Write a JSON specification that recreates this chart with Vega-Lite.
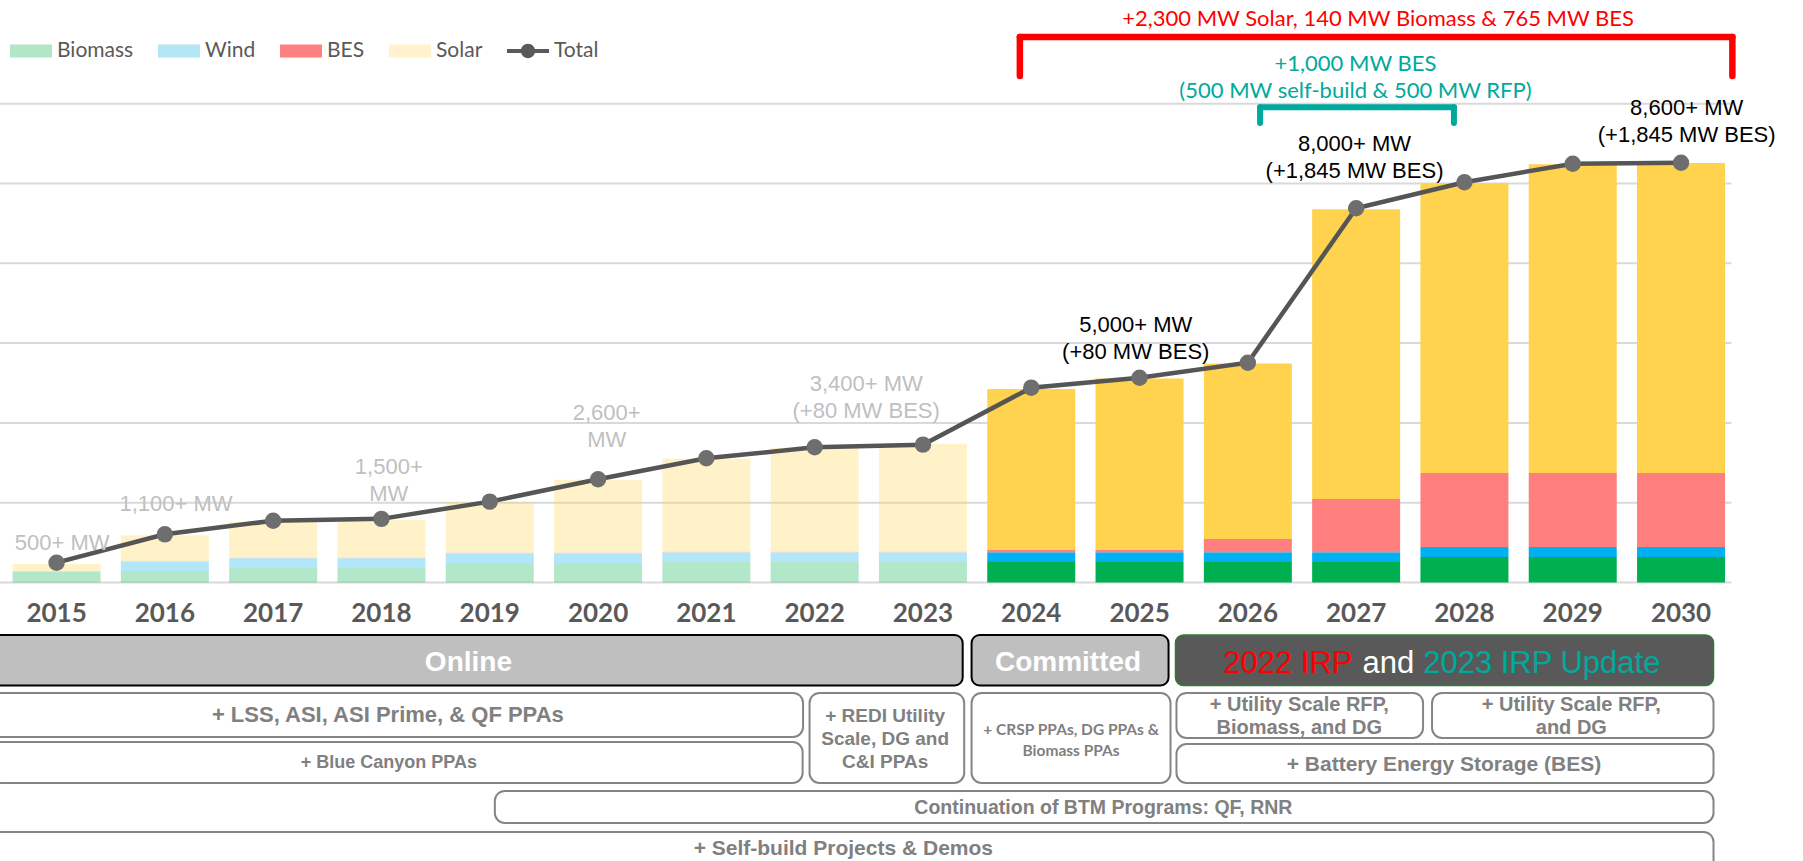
{
  "$schema": "https://vega.github.io/schema/vega-lite/v6.json",
  "width": 1803,
  "height": 861,
  "autosize": "none",
  "padding": 0,
  "background": "white",
  "config": {"view": {"stroke": null}, "axis": {"disable": true}},
  "datasets": {
    "bars": [
      {"year": 2015, "source": "Biomass", "phase": "past", "mw": 215},
      {"year": 2015, "source": "Wind", "phase": "past", "mw": 8},
      {"year": 2015, "source": "BES", "phase": "past", "mw": 0},
      {"year": 2015, "source": "Solar", "phase": "past", "mw": 150},
      {"year": 2016, "source": "Biomass", "phase": "past", "mw": 230},
      {"year": 2016, "source": "Wind", "phase": "past", "mw": 190},
      {"year": 2016, "source": "BES", "phase": "past", "mw": 15},
      {"year": 2016, "source": "Solar", "phase": "past", "mw": 510},
      {"year": 2017, "source": "Biomass", "phase": "past", "mw": 290},
      {"year": 2017, "source": "Wind", "phase": "past", "mw": 195},
      {"year": 2017, "source": "BES", "phase": "past", "mw": 15},
      {"year": 2017, "source": "Solar", "phase": "past", "mw": 720},
      {"year": 2018, "source": "Biomass", "phase": "past", "mw": 290},
      {"year": 2018, "source": "Wind", "phase": "past", "mw": 195},
      {"year": 2018, "source": "BES", "phase": "past", "mw": 15},
      {"year": 2018, "source": "Solar", "phase": "past", "mw": 760},
      {"year": 2019, "source": "Biomass", "phase": "past", "mw": 390},
      {"year": 2019, "source": "Wind", "phase": "past", "mw": 195},
      {"year": 2019, "source": "BES", "phase": "past", "mw": 15},
      {"year": 2019, "source": "Solar", "phase": "past", "mw": 1010},
      {"year": 2020, "source": "Biomass", "phase": "past", "mw": 390},
      {"year": 2020, "source": "Wind", "phase": "past", "mw": 195},
      {"year": 2020, "source": "BES", "phase": "past", "mw": 15},
      {"year": 2020, "source": "Solar", "phase": "past", "mw": 1460},
      {"year": 2021, "source": "Biomass", "phase": "past", "mw": 410},
      {"year": 2021, "source": "Wind", "phase": "past", "mw": 190},
      {"year": 2021, "source": "BES", "phase": "past", "mw": 20},
      {"year": 2021, "source": "Solar", "phase": "past", "mw": 1860},
      {"year": 2022, "source": "Biomass", "phase": "past", "mw": 410},
      {"year": 2022, "source": "Wind", "phase": "past", "mw": 190},
      {"year": 2022, "source": "BES", "phase": "past", "mw": 20},
      {"year": 2022, "source": "Solar", "phase": "past", "mw": 2080},
      {"year": 2023, "source": "Biomass", "phase": "past", "mw": 410},
      {"year": 2023, "source": "Wind", "phase": "past", "mw": 190},
      {"year": 2023, "source": "BES", "phase": "past", "mw": 20},
      {"year": 2023, "source": "Solar", "phase": "past", "mw": 2160},
      {"year": 2024, "source": "Biomass", "phase": "future", "mw": 410},
      {"year": 2024, "source": "Wind", "phase": "future", "mw": 195},
      {"year": 2024, "source": "BES", "phase": "future", "mw": 45},
      {"year": 2024, "source": "Solar", "phase": "future", "mw": 3230},
      {"year": 2025, "source": "Biomass", "phase": "future", "mw": 410},
      {"year": 2025, "source": "Wind", "phase": "future", "mw": 195},
      {"year": 2025, "source": "BES", "phase": "future", "mw": 45},
      {"year": 2025, "source": "Solar", "phase": "future", "mw": 3440},
      {"year": 2026, "source": "Biomass", "phase": "future", "mw": 410},
      {"year": 2026, "source": "Wind", "phase": "future", "mw": 195},
      {"year": 2026, "source": "BES", "phase": "future", "mw": 265},
      {"year": 2026, "source": "Solar", "phase": "future", "mw": 3520},
      {"year": 2027, "source": "Biomass", "phase": "future", "mw": 410},
      {"year": 2027, "source": "Wind", "phase": "future", "mw": 195},
      {"year": 2027, "source": "BES", "phase": "future", "mw": 1070},
      {"year": 2027, "source": "Solar", "phase": "future", "mw": 5810},
      {"year": 2028, "source": "Biomass", "phase": "future", "mw": 510},
      {"year": 2028, "source": "Wind", "phase": "future", "mw": 200},
      {"year": 2028, "source": "BES", "phase": "future", "mw": 1485},
      {"year": 2028, "source": "Solar", "phase": "future", "mw": 5810},
      {"year": 2029, "source": "Biomass", "phase": "future", "mw": 510},
      {"year": 2029, "source": "Wind", "phase": "future", "mw": 200},
      {"year": 2029, "source": "BES", "phase": "future", "mw": 1485},
      {"year": 2029, "source": "Solar", "phase": "future", "mw": 6190},
      {"year": 2030, "source": "Biomass", "phase": "future", "mw": 510},
      {"year": 2030, "source": "Wind", "phase": "future", "mw": 200},
      {"year": 2030, "source": "BES", "phase": "future", "mw": 1485},
      {"year": 2030, "source": "Solar", "phase": "future", "mw": 6215}
    ],
    "totals": [
      {"year": 2015, "mw": 397}, {"year": 2016, "mw": 966}, {"year": 2017, "mw": 1239},
      {"year": 2018, "mw": 1276}, {"year": 2019, "mw": 1621}, {"year": 2020, "mw": 2069},
      {"year": 2021, "mw": 2490}, {"year": 2022, "mw": 2711}, {"year": 2023, "mw": 2764},
      {"year": 2024, "mw": 3906}, {"year": 2025, "mw": 4106}, {"year": 2026, "mw": 4406},
      {"year": 2027, "mw": 7503}, {"year": 2028, "mw": 8024}, {"year": 2029, "mw": 8397},
      {"year": 2030, "mw": 8417}
    ],
    "grid": [{"mw": 0}, {"mw": 1600}, {"mw": 3200}, {"mw": 4800}, {"mw": 6400}, {"mw": 8000}, {"mw": 9600}],
    "labels": [
      {"x": 2015.052, "y": 792, "text": "500+ MW", "tone": "past"},
      {"x": 2016.103, "y": 1574, "text": "1,100+ MW", "tone": "past"},
      {"x": 2018.068, "y": 2306, "text": "1,500+\nMW", "tone": "past"},
      {"x": 2020.080, "y": 3399, "text": "2,600+\nMW", "tone": "past"},
      {"x": 2022.476, "y": 3970, "text": "3,400+ MW\n(+80 MW BES)", "tone": "past"},
      {"x": 2024.965, "y": 5153, "text": "5,000+ MW\n(+80 MW BES)", "tone": "future"},
      {"x": 2026.985, "y": 8782, "text": "8,000+ MW\n(+1,845 MW BES)", "tone": "future"},
      {"x": 2030.052, "y": 9514, "text": "8,600+ MW\n(+1,845 MW BES)", "tone": "future"}
    ],
    "brackets": [
      {"bracket": "red", "x1": 2023.895, "x2": 2023.895, "y1": 10155, "y2": 10937},
      {"bracket": "red", "x1": 2023.895, "x2": 2030.474, "y1": 10937, "y2": 10937},
      {"bracket": "red", "x1": 2030.474, "x2": 2030.474, "y1": 10937, "y2": 10155},
      {"bracket": "teal", "x1": 2026.113, "x2": 2026.113, "y1": 9213, "y2": 9527},
      {"bracket": "teal", "x1": 2026.113, "x2": 2027.903, "y1": 9527, "y2": 9527},
      {"bracket": "teal", "x1": 2027.903, "x2": 2027.903, "y1": 9527, "y2": 9213}
    ],
    "notes": [
      {"note": "red", "x": 2027.203, "y": 11308, "text": "+2,300 MW Solar, 140 MW Biomass & 765 MW BES"},
      {"note": "teal", "x": 2026.994, "y": 10386, "text": "+1,000 MW BES\n(500 MW self-build & 500 MW RFP)"}
    ],
    "boxes": [
      {"box": "Online", "x1": 2014.40, "x2": 2023.367, "y1": -1053, "y2": -2065},
      {"box": "Committed", "x1": 2023.449, "x2": 2025.268, "y1": -1053, "y2": -2065},
      {"box": "IRP", "x1": 2025.332, "x2": 2030.300, "y1": -1053, "y2": -2065},
      {"box": "LSS", "x1": 2014.40, "x2": 2021.893, "y1": -2215, "y2": -3098},
      {"box": "BlueCanyon", "x1": 2014.40, "x2": 2021.889, "y1": -3198, "y2": -4020},
      {"box": "REDI", "x1": 2021.953, "x2": 2023.381, "y1": -2215, "y2": -4020},
      {"box": "CRSP", "x1": 2023.449, "x2": 2025.286, "y1": -2215, "y2": -4020},
      {"box": "USRFP1", "x1": 2025.341, "x2": 2027.618, "y1": -2215, "y2": -3118},
      {"box": "USRFP2", "x1": 2027.701, "x2": 2030.300, "y1": -2215, "y2": -3118},
      {"box": "BES", "x1": 2025.341, "x2": 2030.300, "y1": -3238, "y2": -4020},
      {"box": "BTM", "x1": 2019.047, "x2": 2030.300, "y1": -4180, "y2": -4822},
      {"box": "SelfBuild", "x1": 2014.40, "x2": 2030.300, "y1": -5002, "y2": -5965}
    ],
    "boxtext": [
      {"box": "Online", "x": 2018.803, "y": -1614, "text": "Online"},
      {"box": "Committed", "x": 2024.340, "y": -1614, "text": "Committed"},
      {"box": "IRP2022", "x": 2026.966, "y": -1634, "text": "2022 IRP"},
      {"box": "IRPand", "x": 2027.297, "y": -1634, "text": "and"},
      {"box": "IRP2023", "x": 2027.619, "y": -1634, "text": "2023 IRP Update"},
      {"box": "LSS", "x": 2018.059, "y": -2657, "text": "+ LSS, ASI, ASI Prime, & QF PPAs"},
      {"box": "BlueCanyon", "x": 2018.068, "y": -3619, "text": "+ Blue Canyon PPAs"},
      {"box": "REDI", "x": 2022.651, "y": -2677, "text": "+ REDI Utility\nScale, DG and\nC&I PPAs"},
      {"box": "CRSP", "x": 2024.368, "y": -2967, "text": "+ CRSP PPAs, DG PPAs &\nBiomass PPAs"},
      {"box": "USRFP1", "x": 2026.475, "y": -2456, "text": "+ Utility Scale RFP,\nBiomass, and DG"},
      {"box": "USRFP2", "x": 2028.987, "y": -2456, "text": "+ Utility Scale RFP,\nand DG"},
      {"box": "BES", "x": 2027.811, "y": -3659, "text": "+ Battery Energy Storage (BES)"},
      {"box": "BTM", "x": 2024.666, "y": -4522, "text": "Continuation of BTM Programs: QF, RNR"},
      {"box": "SelfBuild", "x": 2022.265, "y": -5343, "text": "+ Self-build Projects & Demos"}
    ]
  },
  "layer": [
    {
      "data": {"name": "grid"},
      "mark": {"type": "rule", "color": "#d9d9d9", "strokeWidth": 2},
      "encoding": {
        "y": {"field": "mw", "type": "quantitative", "scale": {"domain": [-5584, 11679], "nice": false, "zero": false}},
        "x": {"datum": 2014.4, "type": "quantitative", "scale": {"domain": [2014.524, 2031.08], "nice": false, "zero": false}},
        "x2": {"datum": 2030.465}
      }
    },
    {
      "data": {"name": "bars"},
      "mark": {"type": "bar", "width": 88},
      "encoding": {
        "x": {"field": "year", "type": "quantitative", "scale": {"domain": [2014.524, 2031.08], "nice": false, "zero": false}},
        "y": {"field": "mw", "type": "quantitative", "stack": "zero", "scale": {"domain": [-5584, 11679], "nice": false, "zero": false}},
        "fill": {
          "field": "source", "type": "nominal",
          "scale": {"domain": ["Biomass", "Wind", "BES", "Solar"], "range": ["#00b050", "#00b0f0", "#ff7f7f", "#ffd34d"]},
          "legend": null
        },
        "opacity": {"field": "phase", "type": "nominal", "scale": {"domain": ["past", "future"], "range": [0.3, 1]}, "legend": null},
        "order": {"field": "stackorder", "type": "quantitative"}
      },
      "transform": [{"lookup": "source", "from": {"data": {"values": [{"source": "Biomass", "stackorder": 1}, {"source": "Wind", "stackorder": 2}, {"source": "BES", "stackorder": 3}, {"source": "Solar", "stackorder": 4}]}, "key": "source", "fields": ["stackorder"]}}]
    },
    {
      "data": {"name": "bars"},
      "transform": [{"filter": "datum.year < 0"}],
      "mark": {"type": "point", "filled": true, "opacity": 1, "size": 1764, "strokeWidth": 0},
      "encoding": {
        "x": {"field": "year", "type": "quantitative", "scale": {"domain": [2014.524, 2031.08], "nice": false, "zero": false}},
        "y": {"field": "mw", "type": "quantitative", "scale": {"domain": [-5584, 11679], "nice": false, "zero": false}},
        "color": {
          "field": "source", "type": "nominal",
          "scale": {"domain": ["Biomass", "Wind", "BES", "Solar", "Total"], "range": ["#b3e6c8", "#b3e6f5", "#ff8080", "#fff2cc", "#5a5a5a"]},
          "legend": {
            "orient": "none", "legendX": 10, "legendY": 30, "direction": "horizontal", "title": null,
            "padding": 0, "columnPadding": 24, "labelOffset": 5, "symbolSize": 1764, "symbolStrokeWidth": 0,
            "labelFont": "Lato", "labelFontSize": 21, "labelColor": "#595959", "labelLimit": 300
          }
        },
        "shape": {
          "field": "source", "type": "nominal",
          "scale": {"domain": ["Biomass", "Wind", "BES", "Solar", "Total"], "range": ["M-1,-0.31H1V0.31H-1Z", "M-1,-0.31H1V0.31H-1Z", "M-1,-0.31H1V0.31H-1Z", "M-1,-0.31H1V0.31H-1Z", "M-1,-0.1H1V0.1H-1Z M0.34,0A0.34,0.34 0 1,1 -0.34,0A0.34,0.34 0 1,1 0.34,0Z"]},
          "legend": {
            "orient": "none", "legendX": 10, "legendY": 30, "direction": "horizontal", "title": null,
            "padding": 0, "columnPadding": 24, "labelOffset": 5, "symbolSize": 1764, "symbolStrokeWidth": 0,
            "labelFont": "Lato", "labelFontSize": 21, "labelColor": "#595959", "labelLimit": 300
          }
        }
      }
    },
    {
      "data": {"name": "totals"},
      "mark": {"type": "line", "strokeWidth": 4.5, "color": "#555555"},
      "encoding": {
        "x": {"field": "year", "type": "quantitative", "scale": {"domain": [2014.524, 2031.08], "nice": false, "zero": false}},
        "y": {"field": "mw", "type": "quantitative", "scale": {"domain": [-5584, 11679], "nice": false, "zero": false}}
      }
    },
    {
      "data": {"name": "totals"},
      "mark": {"type": "circle", "size": 270, "color": "#6e6e6e", "opacity": 1},
      "encoding": {
        "x": {"field": "year", "type": "quantitative", "scale": {"domain": [2014.524, 2031.08], "nice": false, "zero": false}},
        "y": {"field": "mw", "type": "quantitative", "scale": {"domain": [-5584, 11679], "nice": false, "zero": false}}
      }
    },
    {
      "data": {"name": "labels"},
      "transform": [{"filter": "datum.tone === 'past'"}],
      "mark": {"type": "text", "font": "Liberation Sans", "fontSize": 22, "color": "#bfbfbf", "lineBreak": "\n", "lineHeight": 27, "align": "center", "baseline": "middle"},
      "encoding": {
        "x": {"field": "x", "type": "quantitative", "scale": {"domain": [2014.524, 2031.08], "nice": false, "zero": false}},
        "y": {"field": "y", "type": "quantitative", "scale": {"domain": [-5584, 11679], "nice": false, "zero": false}},
        "text": {"field": "text", "type": "nominal"}
      }
    },
    {
      "data": {"name": "labels"},
      "transform": [{"filter": "datum.tone === 'future'"}],
      "mark": {"type": "text", "font": "Liberation Sans", "fontSize": 22, "color": "#000000", "lineBreak": "\n", "lineHeight": 27, "align": "center", "baseline": "middle"},
      "encoding": {
        "x": {"field": "x", "type": "quantitative", "scale": {"domain": [2014.524, 2031.08], "nice": false, "zero": false}},
        "y": {"field": "y", "type": "quantitative", "scale": {"domain": [-5584, 11679], "nice": false, "zero": false}},
        "text": {"field": "text", "type": "nominal"}
      }
    },
    {
      "data": {"name": "brackets"},
      "transform": [{"filter": "datum.bracket === 'red'"}],
      "mark": {"type": "rule", "color": "#ff0000", "strokeWidth": 6.5, "strokeCap": "round"},
      "encoding": {
        "x": {"field": "x1", "type": "quantitative", "scale": {"domain": [2014.524, 2031.08], "nice": false, "zero": false}},
        "x2": {"field": "x2"},
        "y": {"field": "y1", "type": "quantitative", "scale": {"domain": [-5584, 11679], "nice": false, "zero": false}},
        "y2": {"field": "y2"}
      }
    },
    {
      "data": {"name": "brackets"},
      "transform": [{"filter": "datum.bracket === 'teal'"}],
      "mark": {"type": "rule", "color": "#00a99d", "strokeWidth": 6, "strokeCap": "round"},
      "encoding": {
        "x": {"field": "x1", "type": "quantitative", "scale": {"domain": [2014.524, 2031.08], "nice": false, "zero": false}},
        "x2": {"field": "x2"},
        "y": {"field": "y1", "type": "quantitative", "scale": {"domain": [-5584, 11679], "nice": false, "zero": false}},
        "y2": {"field": "y2"}
      }
    },
    {
      "data": {"name": "notes"},
      "transform": [{"filter": "datum.note === 'red'"}],
      "mark": {"type": "text", "font": "Lato", "fontSize": 22, "color": "#ff0000", "align": "center", "baseline": "middle"},
      "encoding": {
        "x": {"field": "x", "type": "quantitative", "scale": {"domain": [2014.524, 2031.08], "nice": false, "zero": false}},
        "y": {"field": "y", "type": "quantitative", "scale": {"domain": [-5584, 11679], "nice": false, "zero": false}},
        "text": {"field": "text", "type": "nominal"}
      }
    },
    {
      "data": {"name": "notes"},
      "transform": [{"filter": "datum.note === 'teal'"}],
      "mark": {"type": "text", "font": "Lato", "fontSize": 22, "color": "#00a99d", "lineBreak": "\n", "lineHeight": 27, "align": "center", "baseline": "middle"},
      "encoding": {
        "x": {"field": "x", "type": "quantitative", "scale": {"domain": [2014.524, 2031.08], "nice": false, "zero": false}},
        "y": {"field": "y", "type": "quantitative", "scale": {"domain": [-5584, 11679], "nice": false, "zero": false}},
        "text": {"field": "text", "type": "nominal"}
      }
    },
    {
      "data": {"name": "totals"},
      "mark": {"type": "text", "font": "Lato", "fontWeight": "bold", "fontSize": 26, "color": "#595959", "align": "center", "baseline": "middle"},
      "encoding": {
        "x": {"field": "year", "type": "quantitative", "scale": {"domain": [2014.524, 2031.08], "nice": false, "zero": false}},
        "y": {"datum": -635, "type": "quantitative", "scale": {"domain": [-5584, 11679], "nice": false, "zero": false}},
        "text": {"field": "year", "type": "nominal"}
      }
    },
    {
      "data": {"name": "boxes"},
      "transform": [{"filter": "datum.box === 'Online' || datum.box === 'Committed'"}],
      "mark": {"type": "rect", "fill": "#bfbfbf", "stroke": "#000000", "strokeWidth": 2, "cornerRadius": 8},
      "encoding": {
        "x": {"field": "x1", "type": "quantitative", "scale": {"domain": [2014.524, 2031.08], "nice": false, "zero": false}},
        "x2": {"field": "x2"},
        "y": {"field": "y1", "type": "quantitative", "scale": {"domain": [-5584, 11679], "nice": false, "zero": false}},
        "y2": {"field": "y2"}
      }
    },
    {
      "data": {"name": "boxes"},
      "transform": [{"filter": "datum.box === 'IRP'"}],
      "mark": {"type": "rect", "fill": "#595959", "stroke": "#2e7d32", "strokeWidth": 1.5, "cornerRadius": 8},
      "encoding": {
        "x": {"field": "x1", "type": "quantitative", "scale": {"domain": [2014.524, 2031.08], "nice": false, "zero": false}},
        "x2": {"field": "x2"},
        "y": {"field": "y1", "type": "quantitative", "scale": {"domain": [-5584, 11679], "nice": false, "zero": false}},
        "y2": {"field": "y2"}
      }
    },
    {
      "data": {"name": "boxes"},
      "transform": [{"filter": "datum.box !== 'IRP' && datum.box !== 'Online' && datum.box !== 'Committed'"}],
      "mark": {"type": "rect", "fill": "#ffffff", "stroke": "#858585", "strokeWidth": 2, "cornerRadius": 10},
      "encoding": {
        "x": {"field": "x1", "type": "quantitative", "scale": {"domain": [2014.524, 2031.08], "nice": false, "zero": false}},
        "x2": {"field": "x2"},
        "y": {"field": "y1", "type": "quantitative", "scale": {"domain": [-5584, 11679], "nice": false, "zero": false}},
        "y2": {"field": "y2"}
      }
    },
    {
      "data": {"name": "boxtext"},
      "transform": [{"filter": "datum.box === 'Online' || datum.box === 'Committed'"}],
      "mark": {"type": "text", "font": "Liberation Sans", "fontWeight": "bold", "fontSize": 28, "color": "#ffffff", "align": "center", "baseline": "middle"},
      "encoding": {
        "x": {"field": "x", "type": "quantitative", "scale": {"domain": [2014.524, 2031.08], "nice": false, "zero": false}},
        "y": {"field": "y", "type": "quantitative", "scale": {"domain": [-5584, 11679], "nice": false, "zero": false}},
        "text": {"field": "text", "type": "nominal"}
      }
    },
    {
      "data": {"name": "boxtext"},
      "transform": [{"filter": "datum.box === 'IRP2022'"}],
      "mark": {"type": "text", "font": "Liberation Sans", "fontSize": 31, "color": "#ff0000", "align": "right", "baseline": "middle"},
      "encoding": {
        "x": {"field": "x", "type": "quantitative", "scale": {"domain": [2014.524, 2031.08], "nice": false, "zero": false}},
        "y": {"field": "y", "type": "quantitative", "scale": {"domain": [-5584, 11679], "nice": false, "zero": false}},
        "text": {"field": "text", "type": "nominal"}
      }
    },
    {
      "data": {"name": "boxtext"},
      "transform": [{"filter": "datum.box === 'IRPand'"}],
      "mark": {"type": "text", "font": "Liberation Sans", "fontSize": 31, "color": "#ffffff", "align": "center", "baseline": "middle"},
      "encoding": {
        "x": {"field": "x", "type": "quantitative", "scale": {"domain": [2014.524, 2031.08], "nice": false, "zero": false}},
        "y": {"field": "y", "type": "quantitative", "scale": {"domain": [-5584, 11679], "nice": false, "zero": false}},
        "text": {"field": "text", "type": "nominal"}
      }
    },
    {
      "data": {"name": "boxtext"},
      "transform": [{"filter": "datum.box === 'IRP2023'"}],
      "mark": {"type": "text", "font": "Liberation Sans", "fontSize": 31, "color": "#00a99d", "align": "left", "baseline": "middle"},
      "encoding": {
        "x": {"field": "x", "type": "quantitative", "scale": {"domain": [2014.524, 2031.08], "nice": false, "zero": false}},
        "y": {"field": "y", "type": "quantitative", "scale": {"domain": [-5584, 11679], "nice": false, "zero": false}},
        "text": {"field": "text", "type": "nominal"}
      }
    },
    {
      "data": {"name": "boxtext"},
      "transform": [{"filter": "datum.box === 'CRSP'"}],
      "mark": {"type": "text", "font": "Lato", "fontWeight": "bold", "fontSize": 15.5, "color": "#808080", "lineBreak": "\n", "lineHeight": 21, "align": "center", "baseline": "middle"},
      "encoding": {
        "x": {"field": "x", "type": "quantitative", "scale": {"domain": [2014.524, 2031.08], "nice": false, "zero": false}},
        "y": {"field": "y", "type": "quantitative", "scale": {"domain": [-5584, 11679], "nice": false, "zero": false}},
        "text": {"field": "text", "type": "nominal"}
      }
    },
    {
      "data": {"name": "boxtext"},
      "transform": [{"filter": "indexof(['LSS','BlueCanyon','REDI','USRFP1','USRFP2','BES','BTM','SelfBuild'], datum.box) >= 0"}],
      "mark": {"type": "text", "font": "Liberation Sans", "fontWeight": "bold", "color": "#808080", "lineBreak": "\n", "lineHeight": 23, "align": "center", "baseline": "middle"},
      "encoding": {
        "x": {"field": "x", "type": "quantitative", "scale": {"domain": [2014.524, 2031.08], "nice": false, "zero": false}},
        "y": {"field": "y", "type": "quantitative", "scale": {"domain": [-5584, 11679], "nice": false, "zero": false}},
        "text": {"field": "text", "type": "nominal"},
        "size": {"field": "box", "type": "nominal", "scale": {"type": "ordinal", "domain": ["LSS", "BlueCanyon", "REDI", "USRFP1", "USRFP2", "BES", "BTM", "SelfBuild"], "range": [22, 18, 19, 20, 20, 21, 19.5, 21]}, "legend": null}
      }
    }
  ]
}
